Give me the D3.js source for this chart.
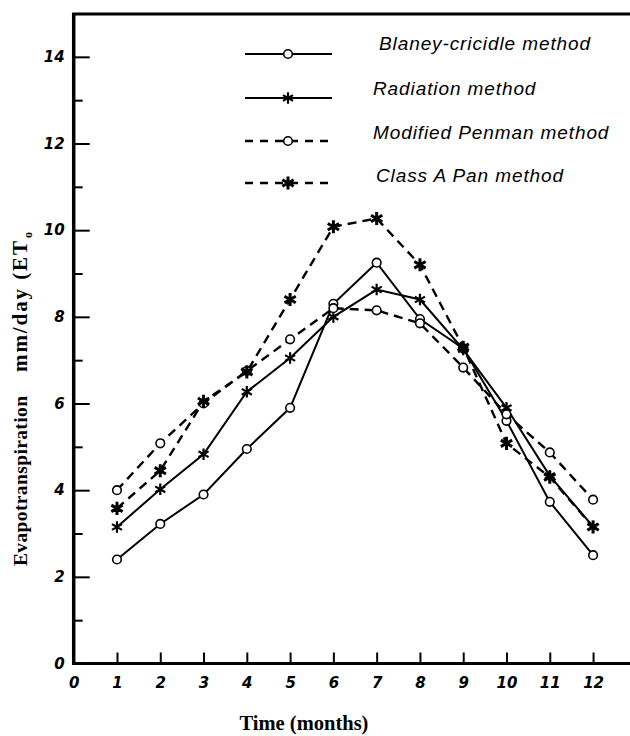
<!DOCTYPE html>
<html>
<head>
<meta charset="utf-8">
<script src="https://cdn.jsdelivr.net/npm/d3@7"></script>
<style>
  html, body { margin: 0; padding: 0; background: #fff; }
  svg { display: block; }
  .ytitle { opacity: 0.99; }
</style>
</head>
<body>
<div id="chart"></div>
<script>
// months on the x axis
const months = [1, 2, 3, 4, 5, 6, 7, 8, 9, 10, 11, 12];

// ET0 values (mm/day)
const blaney    = [2.4, 3.22, 3.9, 4.95, 5.9, 8.3, 9.25, 7.95, 7.27, 5.6, 3.73, 2.5];
const radiation = [3.15, 4.02, 4.83, 6.27, 7.05, 8.0, 8.63, 8.4, 7.25, 5.9, 4.33, 3.16];
const penman    = [4.0, 5.08, 6.0, 6.75, 7.48, 8.2, 8.15, 7.85, 6.83, 5.75, 4.87, 3.78];
const classA    = [3.58, 4.45, 6.05, 6.73, 8.4, 10.08, 10.27, 9.2, 7.3, 5.08, 4.3, 3.15];

const seriesNames = ["Blaney-cricidle method", "Radiation method", "Modified Penman method", "Class A Pan method"];

// tick labels
const yMajorTicks = [0, 2, 4, 6, 8, 10, 12, 14];
const yMinorTicks = [1, 3, 5, 7, 9, 11, 13];
const xTicks = [0, 1, 2, 3, 4, 5, 6, 7, 8, 9, 10, 11, 12];

const width = 630, height = 736;

const svg = d3.select("#chart").append("svg")
    .attr("width", width)
    .attr("height", height)
    .attr("viewBox", `0 0 ${width} ${height}`);

const x = d3.scaleLinear().domain([0, 13.2]).range([73.7, 645]);
const y = d3.scaleLinear().domain([0, 15]).range([663.5, 13.5]);

const tickFont = "'DejaVu Sans', sans-serif";

// --- y axis: major ticks with labels, minor ticks without ---
const yMajor = svg.append("g")
    .attr("transform", `translate(${x(0)},0)`)
    .call(d3.axisLeft(y).tickValues(yMajorTicks).tickSize(-16).tickPadding(9).tickFormat(d3.format("d")));
const yMinor = svg.append("g")
    .attr("transform", `translate(${x(0)},0)`)
    .call(d3.axisLeft(y).tickValues(yMinorTicks).tickSize(-9).tickFormat(""));

// --- x axis ---
const xAxis = svg.append("g")
    .attr("transform", `translate(0,${y(0)})`)
    .call(d3.axisBottom(x).tickValues(xTicks).tickSize(-11).tickPadding(14).tickFormat(d3.format("d")));

[yMajor, yMinor, xAxis].forEach(g => {
    g.select(".domain").remove();
    g.selectAll(".tick line").attr("stroke", "#000").attr("stroke-width", 2);
    g.selectAll(".tick text")
        .attr("fill", "#000")
        .style("font-family", tickFont)
        .style("font-weight", "bold")
        .style("font-style", "italic")
        .style("font-size", "15px");
});
xAxis.select(".tick line").remove(); // no tick at origin, only the "0"

// frame: left, bottom and top lines
svg.append("line").attr("x1", x(0)).attr("x2", x(0)).attr("y1", 13).attr("y2", y(0) + 1.5)
    .attr("stroke", "#000").attr("stroke-width", 3.5);
svg.append("line").attr("x1", x(0) - 1.5).attr("x2", width).attr("y1", y(0)).attr("y2", y(0))
    .attr("stroke", "#000").attr("stroke-width", 3);
svg.append("line").attr("x1", x(0) - 1.5).attr("x2", width).attr("y1", 14).attr("y2", 14)
    .attr("stroke", "#000").attr("stroke-width", 3);

// --- axis titles ---
const titleFont = "'Liberation Serif', 'Times New Roman', serif";
svg.append("text")
    .attr("x", 304).attr("y", 730)
    .attr("text-anchor", "middle")
    .attr("fill", "#000")
    .style("font-family", titleFont).style("font-weight", "bold").style("font-size", "20.5px")
    .text("Time (months)");

// y title in two parts, as spaced in the original
const yTitle = svg.append("g").attr("class", "ytitle");
yTitle.append("text")
    .attr("transform", "translate(27,566) rotate(-90)")
    .attr("fill", "#000")
    .attr("textLength", 170).attr("lengthAdjust", "spacing")
    .style("font-family", titleFont).style("font-weight", "bold").style("font-size", "19.5px")
    .text("Evapotranspiration");
yTitle.append("text")
    .attr("transform", "translate(27,372) rotate(-90)")
    .attr("fill", "#000")
    .attr("textLength", 131).attr("lengthAdjust", "spacing")
    .style("font-family", titleFont).style("font-weight", "bold").style("font-size", "21px")
    .text("mm/day (ET");
yTitle.append("text")
    .attr("transform", "translate(32,238) rotate(-90)")
    .attr("fill", "#000")
    .style("font-family", titleFont).style("font-weight", "bold").style("font-size", "12px")
    .text("o");

// --- series ---
const series = [
    { name: seriesNames[0], values: blaney,    dashed: false, marker: "circle" },
    { name: seriesNames[1], values: radiation, dashed: false, marker: "star" },
    { name: seriesNames[2], values: penman,    dashed: true,  marker: "circle" },
    { name: seriesNames[3], values: classA,    dashed: true,  marker: "bigstar" }
];

const line = d3.line()
    .x((d, i) => x(months[i]))
    .y(d => y(d));

function drawMarker(g, type, cx, cy) {
    if (type === "circle") {
        g.append("circle").attr("cx", cx).attr("cy", cy).attr("r", 4.3)
            .attr("fill", "#fff").attr("stroke", "#000").attr("stroke-width", 1.6);
    } else {
        g.append("path")
            .attr("transform", `translate(${cx},${cy})`)
            .attr("d", d3.symbol(d3.symbolAsterisk, type === "bigstar" ? 120 : 95)())
            .attr("fill", "none").attr("stroke", "#000")
            .attr("stroke-width", type === "bigstar" ? 3 : 2.2);
    }
}

series.forEach(s => {
    svg.append("path")
        .datum(s.values)
        .attr("d", line)
        .attr("fill", "none")
        .attr("stroke", "#000")
        .attr("stroke-width", s.dashed ? 2.4 : 2)
        .attr("stroke-dasharray", s.dashed ? "9,6" : null);
});
series.forEach(s => {
    const g = svg.append("g");
    s.values.forEach((v, i) => drawMarker(g, s.marker, x(months[i]), y(v)));
});

// --- legend ---
const legendRows = [54, 98, 141, 183];
const legendTextX = [379, 373, 373, 376];
const legendBase = [50, 95, 139, 182];
series.forEach((s, i) => {
    const g = svg.append("g");
    g.append("line")
        .attr("x1", 245).attr("x2", 332).attr("y1", legendRows[i]).attr("y2", legendRows[i])
        .attr("stroke", "#000").attr("stroke-width", s.dashed ? 2.4 : 2)
        .attr("stroke-dasharray", s.dashed ? "8,7" : null);
    drawMarker(g, s.marker, 288, legendRows[i]);
    g.append("text")
        .attr("x", legendTextX[i]).attr("y", legendBase[i])
        .attr("fill", "#000")
        .style("font-family", "'Liberation Sans', Arial, sans-serif")
        .style("font-style", "italic")
        .style("font-size", "19px")
        .style("letter-spacing", "0.9px")
        .text(s.name);
});
</script>
</body>
</html>
